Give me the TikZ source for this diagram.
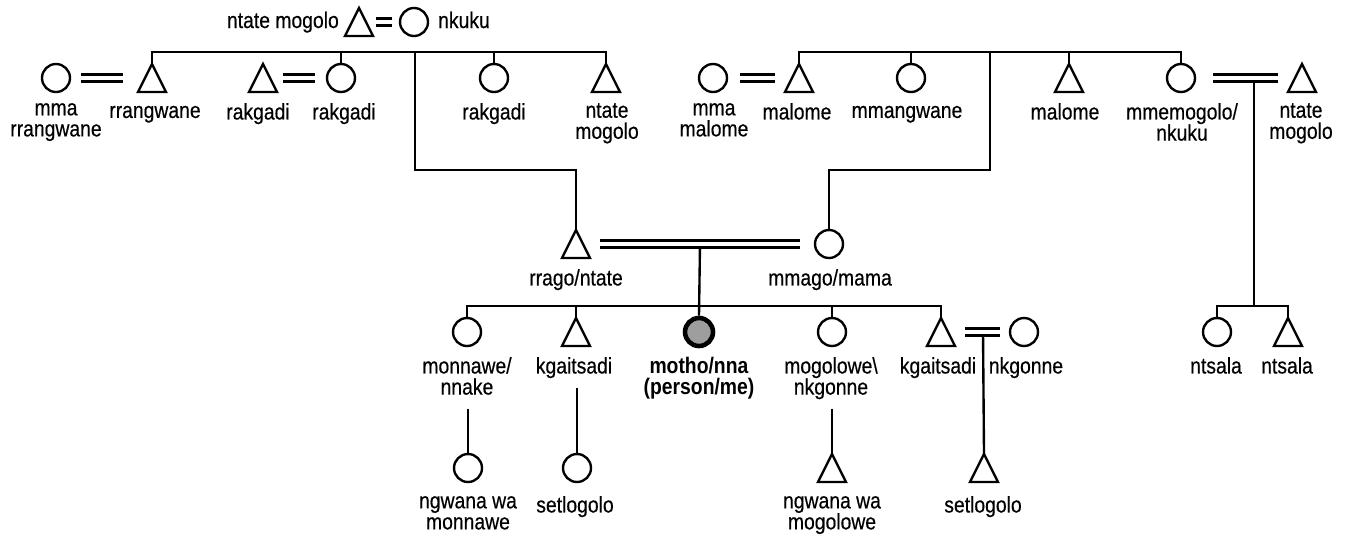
\documentclass[tikz,border=0pt]{standalone}
\usepackage{fontspec}
\setmainfont{Liberation Sans}[FakeStretch=0.86, UprightFeatures={FakeBold=0.4}]
\begin{document}
\begin{tikzpicture}[x=0.02cm, y=-0.02cm, line width=1.35pt,
    fem/.style={circle, draw, minimum size=0.56cm, inner sep=0pt},
    mal/.style={rectangle, minimum size=0.56cm, inner sep=0pt, outer sep=0pt},
    ego/.style={fem, fill=black!38, line width=2.6pt},
    lbl/.style={anchor=north, inner sep=0pt, align=center,
      font={\fontsize{12.8}{12}\selectfont\lineskiplimit=-6pt},
      execute at begin node=\strut, execute at end node=\strut},
    marr/.style={double, double distance=0.09cm, line width=1.3pt}]
  \useasboundingbox (0,0) rectangle (1348,538);
  \node[mal] (ntm) at (359,22) {}; \node[fem] (nkk) at (414,22) {};
  \node[lbl, anchor=base east] (lntm) at (340,28) {ntate mogolo};
  \node[lbl, anchor=base west] (lnkk) at (437,28) {nkuku};
  \draw[marr, line width=1.8pt, double distance=0.08cm, shorten <=0.06cm, shorten >=0.14cm] (ntm.east) -- (nkk.west);
  \node[fem] (mmarr) at (56,78) {}; \node[mal] (rrang) at (152,78) {};
  \node[mal] (rakt) at (263,78) {}; \node[fem] (rakc) at (341,78) {};
  \node[fem] (rakr) at (494,78) {}; \node[mal] (ntmL) at (606,78) {};
  \node[fem] (mmamal) at (713,78) {}; \node[mal] (mal1) at (799,78) {};
  \node[fem] (mmang) at (911,78) {}; \node[mal] (mal2) at (1069,78) {};
  \node[fem] (mmemo) at (1181,78) {}; \node[mal] (ntmR) at (1302,78) {};
  \node[lbl] at (56,102) {mma\\rrangwane}; \node[lbl] at (155,102) {rrangwane};
  \node[lbl] at (258,102) {rakgadi}; \node[lbl] at (344,102) {rakgadi};
  \node[lbl] at (494,102) {rakgadi}; \node[lbl] at (607,102) {ntate\\mogolo};
  \node[lbl] at (714,102) {mma\\malome}; \node[lbl] at (797,102) {malome};
  \node[lbl] at (907,102) {mmangwane}; \node[lbl] at (1065,102) {malome};
  \node[lbl] at (1182,102) {mmemogolo/\\nkuku}; \node[lbl] at (1301,102) {ntate\\mogolo};
  \draw[marr, shorten <=0.2cm, shorten >=0.3cm] (mmarr.east) -- (rrang.west);
  \draw[marr, shorten <=0.12cm, shorten >=0.22cm] (rakt.east) -- (rakc.west);
  \draw[marr, shorten <=0.24cm, shorten >=0.2cm] (mmamal.east) -- (mal1.west);
  \coordinate (gpR) at (1254,78); \coordinate (ntsk) at (1254,306);
  \draw (gpR) -- (ntsk);
  \draw[marr, shorten <=0.34cm, shorten >=0.2cm] (mmemo.east) -- (ntmR.west);
  \node[mal] (rrago) at (576,244) {}; \node[fem] (mmago) at (829,244) {};
  \node[lbl] at (576,268) {rrago/ntate}; \node[lbl] at (830,268) {mmago/mama};
  \coordinate (sibL) at (415,52); \coordinate (sibR) at (990,52);
  \draw (rrang.north) |- (sibL) -| (ntmL.north);
  \draw (rakc.north) -- (rakc.north |- sibL); \draw (rakr.north) -- (rakr.north |- sibL);
  \draw (sibL) -- ++(0,118) -| (rrago.north);
  \draw (mal1.north) |- (sibR) -| (mmemo.north);
  \draw (mmang.north) -- (mmang.north |- sibR); \draw (mal2.north) -- (mal2.north |- sibR);
  \draw (sibR) -- ++(0,118) -| (mmago.north);
  \node[fem] (monna) at (467,332) {}; \node[mal] (kgait1) at (576,332) {};
  \node[ego] (motho) at (699,332) {}; \node[fem] (mogol) at (832,332) {};
  \node[mal] (kgait2) at (941,332) {}; \node[fem] (nkgon) at (1024,332) {};
  \node[fem] (ntsc) at (1217,332) {}; \node[mal] (ntst) at (1288,332) {};
  \coordinate (pm) at (700,244); \coordinate (kids) at (700,306);
  \draw (pm) -- (motho.north);
  \draw[marr, shorten <=0.2cm, shorten >=0.28cm] (rrago.east) -- (mmago.west);
  \draw (monna.north) |- (kids) -| (kgait2.north);
  \draw (kgait1.north) -- (kgait1.north |- kids); \draw (mogol.north) -- (mogol.north |- kids);
  \draw (ntsc.north) |- (ntsk) -| (ntst.north);
  \node[lbl] (lmonna) at (467,356) {monnawe/\\nnake}; \node[lbl] (lkg1) at (574,356) {kgaitsadi};
  \node[lbl] (lmotho) at (699,356) {\textbf{motho/nna}\\\textbf{(person/me)}};
  \node[lbl] (lmogol) at (831,356) {mogolowe\textbackslash\\nkgonne};
  \node[lbl] (lkg2) at (938,356) {kgaitsadi}; \node[lbl] (lnk) at (1026,356) {nkgonne};
  \node[lbl] at (1216,356) {ntsala}; \node[lbl] at (1287,356) {ntsala};
  \node[fem] (ngw1) at (468,468) {}; \node[fem] (setl1) at (577,468) {};
  \node[mal] (ngw2) at (832,468) {}; \node[mal] (setl2) at (984,468) {};
  \coordinate (nk) at (983,332);
  \draw (nk) -- (setl2.north);
  \draw[marr, shorten <=0.2cm, shorten >=0.18cm] (kgait2.east) -- (nkgon.west);
  \draw[shorten <=0.13cm] (ngw1.north |- lmonna.south) -- (ngw1.north);
  \draw[shorten <=0.13cm] (setl1.north |- lkg1.south) -- (setl1.north);
  \draw[shorten <=0.13cm] (ngw2.north |- lmogol.south) -- (ngw2.north);
  \node[lbl] at (468,495) {ngwana wa\\monnawe}; \node[lbl] at (575,495) {setlogolo};
  \node[lbl] at (832,495) {ngwana wa\\mogolowe}; \node[lbl] at (983,495) {setlogolo};
  \foreach \n in {ntm, rrang, rakt, ntmL, mal1, mal2, ntmR, rrago, kgait1, kgait2, ntst, ngw2, setl2}
    \draw (\n.south west) -- (\n.north) -- (\n.south east) -- cycle;
\end{tikzpicture}
\end{document}
